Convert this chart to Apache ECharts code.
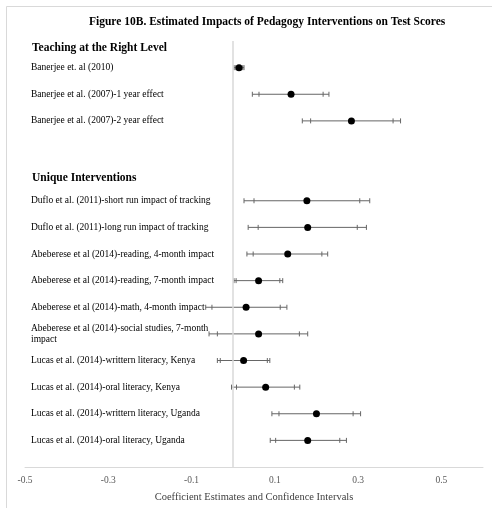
<!DOCTYPE html>
<html>
<head>
<meta charset="utf-8">
<script src="https://cdn.jsdelivr.net/npm/echarts@6/dist/echarts.min.js"></script>
<style>
  html, body { margin: 0; padding: 0; background: #fff; }
  #chart { width: 492px; height: 508px; }
</style>
</head>
<body>
<div id="chart"></div>
<script>
// Studies, one per row (top to bottom)
const studyLabels = [
  'Banerjee et. al (2010)',
  'Banerjee et al. (2007)-1 year effect',
  'Banerjee et al. (2007)-2 year effect',
  'Duflo et al. (2011)-short run impact of tracking',
  'Duflo et al. (2011)-long run impact of tracking',
  'Abeberese et al (2014)-reading, 4-month impact',
  'Abeberese et al (2014)-reading, 7-month impact',
  'Abeberese et al (2014)-math, 4-month impact',
  'Abeberese et al (2014)-social studies, 7-month\nimpact',
  'Lucas et al. (2014)-writtern literacy, Kenya',
  'Lucas et al. (2014)-oral literacy, Kenya',
  'Lucas et al. (2014)-writtern literacy, Uganda',
  'Lucas et al. (2014)-oral literacy, Uganda'
];
// Row slot of each study on the vertical scale (gaps leave room for section headings)
const rowPositions = [0, 1, 2, 5, 6, 7, 8, 9, 10, 11, 12, 13, 14];

// Point estimates
const estimates = [0.014, 0.139, 0.284, 0.177, 0.179, 0.131, 0.061, 0.031, 0.061, 0.025, 0.078, 0.200, 0.179];
// Outer confidence bounds
const outerLow  = [0.002, 0.046, 0.166, 0.026, 0.036, 0.033, 0.002, -0.066, -0.058, -0.038, -0.004, 0.093, 0.089];
const outerHigh = [0.026, 0.230, 0.402, 0.328, 0.320, 0.227, 0.119, 0.129, 0.179, 0.088, 0.160, 0.306, 0.272];
// Inner confidence bounds
const innerLow  = [0.005, 0.062, 0.186, 0.050, 0.060, 0.048, 0.007, -0.051, -0.038, -0.031, 0.008, 0.110, 0.102];
const innerHigh = [0.023, 0.216, 0.384, 0.304, 0.298, 0.213, 0.112, 0.113, 0.159, 0.082, 0.147, 0.288, 0.256];

// Section headings
const sectionTitles = ['Teaching at the Right Level', 'Unique Interventions'];
// Labelled values on the horizontal axis
const xTickLabels = [-0.5, -0.3, -0.1, 0.1, 0.3, 0.5];

const serif = '"Liberation Serif", "Times New Roman", serif';

const barData = rowPositions.map((r, i) => [r, outerLow[i], outerHigh[i], innerLow[i], innerHigh[i]]);
const pointData = rowPositions.map((r, i) => [estimates[i], r]);

const chart = echarts.init(document.getElementById('chart'), null, { renderer: 'canvas' });

chart.setOption({
  backgroundColor: '#fff',
  animation: false,
  title: {
    text: 'Figure 10B. Estimated Impacts of Pedagogy Interventions on Test Scores',
    left: 84,
    top: 11,
    textStyle: { fontFamily: serif, fontWeight: 'bold', fontSize: 11.5, color: '#000' }
  },
  graphic: [
    {
      type: 'rect', silent: true, z: -1,
      shape: { x: 6.5, y: 6.5, width: 600, height: 600 },
      style: { fill: 'none', stroke: '#d9d9d9', lineWidth: 1 }
    },
    {
      type: 'text', left: 32, top: 42,
      style: { text: sectionTitles[0], font: 'bold 11.5px ' + serif, fill: '#000' }
    },
    {
      type: 'text', left: 32, top: 172,
      style: { text: sectionTitles[1], font: 'bold 11.5px ' + serif, fill: '#000' }
    }
  ],
  grid: { left: 25, right: 9, top: 41, bottom: 41 },
  xAxis: {
    type: 'value',
    min: -0.5,
    max: 0.6,
    interval: 0.1,
    axisLine: { show: true, onZero: false, lineStyle: { color: '#d9d9d9', width: 1 } },
    axisTick: { show: false },
    splitLine: { show: false },
    axisLabel: {
      margin: 8,
      fontFamily: serif,
      fontSize: 9.5,
      color: '#595959',
      formatter: function (v) {
        const r = Math.round(v * 10) / 10;
        return xTickLabels.some(t => Math.abs(t - r) < 1e-9) ? r.toFixed(1) : '';
      }
    },
    name: 'Coefficient Estimates and Confidence Intervals',
    nameLocation: 'middle',
    nameGap: 25,
    nameTextStyle: { fontFamily: serif, fontSize: 10.5, color: '#404040' }
  },
  yAxis: {
    type: 'value',
    min: -1,
    max: 15,
    interval: 1,
    inverse: true,
    axisLine: { show: false, onZero: false },
    axisTick: { show: false },
    splitLine: { show: false },
    axisLabel: {
      inside: true,
      margin: 6,
      fontFamily: serif,
      fontSize: 9.5,
      lineHeight: 11,
      color: '#000',
      showMinLabel: true,
      showMaxLabel: true,
      formatter: function (v) {
        const i = rowPositions.indexOf(Math.round(v));
        return i >= 0 ? studyLabels[i] : '';
      }
    }
  },
  series: [
    {
      type: 'custom',
      name: 'Confidence intervals',
      z: 2,
      encode: { x: [1, 2, 3, 4], y: 0 },
      data: barData,
      renderItem: function (params, api) {
        const y = api.value(0);
        const pts = [1, 2, 3, 4].map(d => api.coord([api.value(d), y]));
        const stroke = { stroke: '#666666', lineWidth: 1 };
        const h = 2.5;
        const children = [{
          type: 'line',
          shape: { x1: pts[0][0], y1: pts[0][1], x2: pts[1][0], y2: pts[1][1] },
          style: stroke
        }];
        pts.forEach(p => {
          children.push({
            type: 'line',
            shape: { x1: p[0], y1: p[1] - h, x2: p[0], y2: p[1] + h },
            style: stroke
          });
        });
        return { type: 'group', children: children };
      }
    },
    {
      type: 'scatter',
      name: 'Estimate',
      z: 3,
      symbol: 'circle',
      symbolSize: 7,
      itemStyle: { color: '#000', opacity: 1 },
      data: pointData,
      markLine: {
        silent: true,
        symbol: 'none',
        label: { show: false },
        lineStyle: { color: '#d9d9d9', width: 1.5, type: 'solid' },
        data: [{ xAxis: 0 }]
      }
    }
  ]
});
</script>
</body>
</html>
